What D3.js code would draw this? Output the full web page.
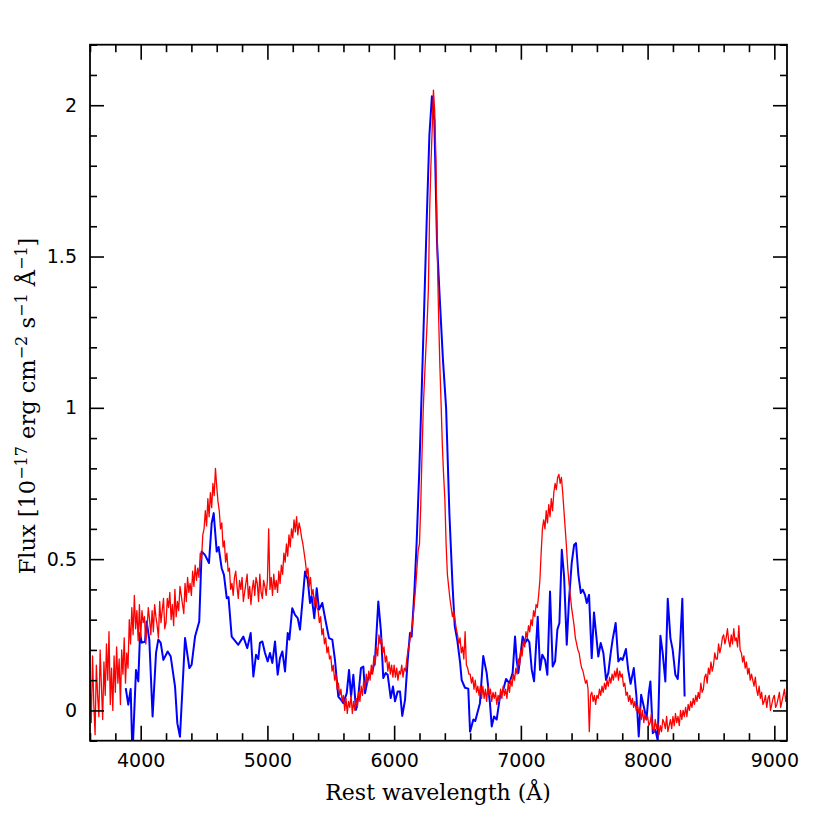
<!DOCTYPE html>
<html>
<head>
<meta charset="utf-8">
<script src="https://cdn.jsdelivr.net/npm/d3@7"></script>
<style>
  html, body { margin: 0; padding: 0; background: #fff; }
  svg { display: block; }
</style>
</head>
<body>
<svg id="chart" width="830" height="830"></svg>
<script>
// ---- Data ----
// Red spectrum: sampled every 10 Å starting at 3600 Å (one row = 100 Å)
const redStart = 3600;
const redStep = 10;
const redFlux = [
  0.10, -0.04, 0.18, 0.02, -0.08, 0.15, 0.05, -0.02, 0.20, 0.08,
  -0.03, 0.16, 0.05, 0.22, 0.10, 0.26, 0.02, 0.14, 0.00, 0.18,
  0.06, 0.21, 0.09, 0.17, 0.02, 0.20, 0.12, 0.24, 0.09, 0.19,
  0.14, 0.30, 0.22, 0.34, 0.25, 0.38, 0.27, 0.33, 0.23, 0.35,
  0.24, 0.33, 0.29, 0.31, 0.22, 0.27, 0.34, 0.30, 0.25, 0.33,
  0.26, 0.35, 0.31, 0.28, 0.24, 0.36, 0.29, 0.33, 0.37, 0.27,
  0.29, 0.37, 0.34, 0.39, 0.30, 0.35, 0.28, 0.40, 0.31, 0.36,
  0.33, 0.41, 0.38, 0.35, 0.32, 0.42, 0.36, 0.44, 0.39, 0.42,
  0.38, 0.46, 0.41, 0.48, 0.43, 0.47, 0.44, 0.52, 0.50, 0.58,
  0.60, 0.66, 0.61, 0.70, 0.64, 0.72, 0.67, 0.75, 0.71, 0.80,
  0.74, 0.69, 0.66, 0.60, 0.62, 0.54, 0.56, 0.49, 0.52, 0.46,
  0.47, 0.40, 0.42, 0.38, 0.44, 0.46, 0.41, 0.37, 0.43, 0.40,
  0.44, 0.36, 0.39, 0.42, 0.45, 0.37, 0.41, 0.35, 0.40, 0.43,
  0.38, 0.44, 0.42, 0.36, 0.45, 0.39, 0.37, 0.43, 0.41, 0.38,
  0.43, 0.60, 0.40, 0.44, 0.38, 0.45, 0.40, 0.43, 0.39, 0.46,
  0.42, 0.48, 0.45, 0.52, 0.49, 0.55, 0.51, 0.58, 0.54, 0.60,
  0.57, 0.63, 0.59, 0.64, 0.58, 0.62, 0.60, 0.57, 0.55, 0.52,
  0.49, 0.45, 0.47, 0.41, 0.44, 0.38, 0.40, 0.35, 0.38, 0.34,
  0.33, 0.29, 0.31, 0.25, 0.27, 0.22, 0.24, 0.19, 0.21, 0.17,
  0.18, 0.13, 0.15, 0.10, 0.12, 0.07, 0.09, 0.05, 0.07, 0.03,
  0.05, 0.00, 0.04, -0.01, 0.03, 0.01, 0.05, -0.01, 0.03, 0.00,
  0.04, 0.01, 0.06, 0.03, 0.08, 0.05, 0.10, 0.07, 0.12, 0.09,
  0.13, 0.10, 0.15, 0.12, 0.18, 0.15, 0.21, 0.18, 0.25, 0.22,
  0.24, 0.19, 0.21, 0.16, 0.18, 0.13, 0.16, 0.12, 0.15, 0.11,
  0.15, 0.11, 0.14, 0.10, 0.13, 0.12, 0.15, 0.11, 0.14, 0.13,
  0.17, 0.20, 0.22, 0.25, 0.27, 0.31, 0.36, 0.41, 0.47, 0.53,
  0.55, 0.68, 0.85, 1.00, 1.10, 1.19, 1.28, 1.39, 1.65, 1.80,
  1.92, 2.05, 1.98, 1.82, 1.52, 1.32, 1.15, 1.02, 0.88, 0.78,
  0.70, 0.55, 0.45, 0.41, 0.37, 0.34, 0.31, 0.33, 0.30, 0.27,
  0.25, 0.22, 0.24, 0.19, 0.21, 0.17, 0.26, 0.15, 0.14, 0.12,
  0.12, 0.09, 0.11, 0.07, 0.10, 0.06, 0.08, 0.05, 0.08, 0.04,
  0.08, 0.04, 0.07, 0.03, 0.08, 0.05, 0.07, 0.03, 0.06, 0.04,
  0.06, 0.02, 0.05, 0.03, 0.07, 0.04, 0.08, 0.05, 0.07, 0.04,
  0.09, 0.06, 0.10, 0.08, 0.12, 0.10, 0.14, 0.12, 0.17, 0.15,
  0.20, 0.18, 0.23, 0.21, 0.26, 0.24, 0.28, 0.26, 0.30, 0.28,
  0.33, 0.31, 0.35, 0.34, 0.38, 0.43, 0.52, 0.60, 0.63, 0.60,
  0.66, 0.62, 0.68, 0.64, 0.70, 0.66, 0.72, 0.75, 0.73, 0.77,
  0.78, 0.75, 0.77, 0.72, 0.66, 0.60, 0.54, 0.47, 0.42, 0.38,
  0.34, 0.31, 0.28, 0.24, 0.22, 0.20, 0.19, 0.16, 0.14, 0.13,
  0.11, 0.09, 0.10, 0.07, -0.07, 0.05, 0.06, 0.03, 0.05, 0.02,
  0.05, 0.04, 0.07, 0.05, 0.08, 0.06, 0.09, 0.07, 0.10, 0.08,
  0.11, 0.09, 0.12, 0.10, 0.13, 0.11, 0.14, 0.10, 0.13, 0.11,
  0.12, 0.08, 0.09, 0.05, 0.06, 0.03, 0.05, 0.02, 0.04, 0.01,
  0.03, 0.00, 0.02, -0.01, 0.01, -0.03, 0.00, -0.04, -0.01, -0.03,
  -0.02, -0.05, -0.04, -0.01, -0.06, -0.07, -0.03, -0.06, -0.04, -0.08,
  -0.05, -0.07, -0.03, -0.04, -0.06, -0.02, -0.07, -0.05, -0.03, -0.06,
  -0.02, -0.05, -0.01, -0.04, -0.02, -0.05, 0.00, -0.03, 0.00, -0.02,
  0.01, -0.02, 0.02, 0.00, 0.03, 0.01, 0.04, 0.02, 0.05, 0.03,
  0.06, 0.04, 0.09, 0.06, 0.07, 0.11, 0.12, 0.09, 0.14, 0.12,
  0.16, 0.13, 0.15, 0.19, 0.17, 0.17, 0.22, 0.19, 0.21, 0.24,
  0.25, 0.22, 0.24, 0.27, 0.23, 0.21, 0.25, 0.22, 0.27, 0.23,
  0.24, 0.21, 0.28, 0.20, 0.19, 0.16, 0.18, 0.14, 0.16, 0.12,
  0.14, 0.10, 0.12, 0.10, 0.08, 0.11, 0.07, 0.05, 0.08, 0.04,
  0.06, 0.02, 0.03, 0.05, 0.01, 0.04, 0.05, 0.00, 0.02, 0.04,
  0.05, 0.01, 0.02, 0.04, 0.06, 0.01, 0.03, 0.05, 0.07, 0.03,
  0.06
];

// Blue spectrum (lower resolution)
const blueWave = [
  3882, 3902, 3921, 3935, 3963, 3981, 3995, 4008, 4034, 4047,
  4068, 4094, 4121, 4139, 4158, 4179, 4213, 4237, 4271, 4289,
  4310, 4350, 4384, 4402, 4429, 4462, 4481, 4507, 4539, 4560,
  4576, 4600, 4615, 4639, 4657, 4679, 4693, 4718, 4770, 4810,
  4841, 4868, 4889, 4910, 4928, 4941, 4960, 4981, 5002, 5020,
  5039, 5060, 5081, 5099, 5118, 5139, 5160, 5173, 5196, 5218,
  5239, 5257, 5297, 5318, 5336, 5349, 5370, 5389, 5407, 5433,
  5460, 5486, 5512, 5533, 5559, 5581, 5599, 5626, 5644, 5660,
  5678, 5699, 5717, 5738, 5757, 5770, 5791, 5809, 5828, 5849,
  5875, 5896, 5914, 5933, 5949, 5973, 5991, 6007, 6028, 6046,
  6064, 6086, 6107, 6125, 6138, 6159, 6178, 6199, 6217, 6237,
  6257, 6278, 6298, 6317, 6338, 6360, 6385, 6410, 6436, 6460,
  6478, 6499, 6520, 6533, 6559, 6585, 6599, 6625, 6640, 6677,
  6703, 6730, 6756, 6770, 6788, 6809, 6835, 6861, 6883, 6909,
  6935, 6954, 6967, 6980, 6999, 7014, 7033, 7051, 7067, 7086,
  7104, 7133, 7151, 7169, 7191, 7209, 7230, 7251, 7270, 7288,
  7304, 7323, 7341, 7362, 7380, 7401, 7420, 7435, 7454, 7473,
  7488, 7506, 7520, 7538, 7559, 7577, 7598, 7611, 7630, 7651,
  7672, 7690, 7709, 7724, 7748, 7769, 7788, 7803, 7829, 7847,
  7866, 7891, 7912, 7930, 7949, 7970, 7991, 8009, 8022, 8041,
  8062, 8080, 8101, 8119, 8140, 8159, 8180, 8198, 8219, 8238,
  8256, 8274, 8292
];
const blueFlux = [
  0.074, 0.019, 0.071, -0.15, 0.134, 0.096, 0.256, 0.224, 0.227, 0.294,
  0.234, -0.02, 0.19, 0.234, 0.223, 0.167, 0.195, 0.178, 0.079, -0.042,
  -0.087, 0.239, 0.14, 0.151, 0.244, 0.294, 0.525, 0.514, 0.487, 0.619,
  0.652, 0.525, 0.54, 0.47, 0.448, 0.371, 0.375, 0.244, 0.217, 0.244,
  0.206, 0.256, 0.112, 0.184, 0.17, 0.223, 0.228, 0.19, 0.162, 0.19,
  0.157, 0.228, 0.118, 0.173, 0.195, 0.129, 0.256, 0.234, 0.338, 0.316,
  0.305, 0.267, 0.459, 0.432, 0.355, 0.377, 0.305, 0.404, 0.333, 0.355,
  0.294, 0.239, 0.234, 0.167, 0.046, 0.035, 0.024, 0.057, 0.134, 0.046,
  0.118, 0.002, 0.046, 0.14, 0.145, 0.057, 0.101, 0.118, 0.129, 0.167,
  0.36, 0.261, 0.107, 0.124, 0.118, 0.041, 0.079, 0.03, 0.063, 0.063,
  -0.018, 0.035, 0.167, 0.256, 0.244, 0.388, 0.56, 0.80, 1.05, 1.33,
  1.62, 1.90, 2.03, 1.95, 1.55, 1.36, 1.16, 1.00, 0.65, 0.42,
  0.28, 0.23, 0.16, 0.10, 0.075, 0.072, -0.07, -0.03, -0.035, 0.024,
  0.18, 0.124, 0.024, -0.053, -0.02, -0.03, 0.046, 0.068, 0.104, 0.09,
  0.124, 0.244, 0.167, 0.124, 0.19, 0.244, 0.223, 0.236, 0.225, 0.134,
  0.096, 0.31, 0.134, 0.184, 0.167, 0.118, 0.393, 0.145, 0.162, 0.267,
  0.289, 0.531, 0.443, 0.217, 0.366, 0.487, 0.547, 0.553, 0.448, 0.388,
  0.399, 0.382, 0.355, 0.382, 0.173, 0.324, 0.234, 0.178, 0.223, 0.19,
  0.101, 0.124, 0.19, 0.234, 0.289, 0.162, 0.173, 0.167, 0.203, 0.134,
  0.088, 0.14, 0.046, -0.086, 0.052, 0.013, -0.03, 0.057, 0.096, -0.075,
  -0.064, -0.1, 0.247, 0.19, 0.096, 0.369, 0.239, 0.2, 0.118, 0.104,
  0.211, 0.369, 0.046
];

// Axes ticks
const xMajorTicks = [4000, 5000, 6000, 7000, 8000, 9000];
const xMajorLabels = ["4000", "5000", "6000", "7000", "8000", "9000"];
const yMajorTicks = [0, 0.5, 1, 1.5, 2];
const yMajorLabels = ["0", "0.5", "1", "1.5", "2"];
const xMinorStep = 200;
const yMinorStep = 0.1;

// ---- Layout ----
const pLeft = 90, pRight = 787, pTop = 44.7, pBottom = 740.7;
const svg = d3.select("#chart");

const x = d3.scaleLinear().domain([3600, 9100]).range([pLeft, pRight]);
const y = d3.scaleLinear().domain([-0.1, 2.2]).range([pBottom, pTop]);

const xMinor = d3.range(3600, 9100 + 1, xMinorStep).filter(v => !xMajorTicks.includes(v));
const yMinor = d3.range(-1, 23).map(i => +(i * yMinorStep).toFixed(1)).filter(v => !yMajorTicks.includes(v));

svg.append("defs").append("clipPath").attr("id", "clip")
  .append("rect").attr("x", pLeft).attr("y", pTop)
  .attr("width", pRight - pLeft).attr("height", pBottom - pTop);

// Data lines
const redData = redFlux.map((f, i) => [redStart + i * redStep, f]);
const blueData = blueWave.map((w, i) => [w, blueFlux[i]]);
const line = d3.line().x(d => x(d[0])).y(d => y(d[1]));

const plot = svg.append("g").attr("clip-path", "url(#clip)");
plot.append("path").datum(blueData).attr("d", line)
  .attr("fill", "none").attr("stroke", "#0000ff").attr("stroke-width", 2)
  .attr("stroke-linejoin", "round");
plot.append("path").datum(redData).attr("d", line)
  .attr("fill", "none").attr("stroke", "#ff0000").attr("stroke-width", 1.3)
  .attr("stroke-linejoin", "round");

// Axes
const fontTick = "'DejaVu Sans', sans-serif";
function styleAxis(g) {
  g.select(".domain").remove();
  g.selectAll(".tick line").attr("stroke", "#000").attr("stroke-width", 1.6);
  g.selectAll(".tick text").attr("fill", "#000").style("font-family", fontTick).style("font-size", "19px");
}

// bottom
svg.append("g").attr("transform", `translate(0,${pBottom})`)
  .call(d3.axisBottom(x).tickValues(xMajorTicks).tickFormat((d, i) => xMajorLabels[i])
    .tickSizeInner(-15).tickSizeOuter(0).tickPadding(13))
  .call(styleAxis);
svg.append("g").attr("transform", `translate(0,${pBottom})`)
  .call(d3.axisBottom(x).tickValues(xMinor).tickFormat("").tickSizeInner(-7.5).tickSizeOuter(0))
  .call(styleAxis);
// top
svg.append("g").attr("transform", `translate(0,${pTop})`)
  .call(d3.axisTop(x).tickValues(xMajorTicks).tickFormat("").tickSizeInner(-15).tickSizeOuter(0))
  .call(styleAxis);
svg.append("g").attr("transform", `translate(0,${pTop})`)
  .call(d3.axisTop(x).tickValues(xMinor).tickFormat("").tickSizeInner(-7.5).tickSizeOuter(0))
  .call(styleAxis);
// left
svg.append("g").attr("transform", `translate(${pLeft},0)`)
  .call(d3.axisLeft(y).tickValues(yMajorTicks).tickFormat((d, i) => yMajorLabels[i])
    .tickSizeInner(-14).tickSizeOuter(0).tickPadding(13))
  .call(styleAxis);
svg.append("g").attr("transform", `translate(${pLeft},0)`)
  .call(d3.axisLeft(y).tickValues(yMinor).tickFormat("").tickSizeInner(-7).tickSizeOuter(0))
  .call(styleAxis);
// right
svg.append("g").attr("transform", `translate(${pRight},0)`)
  .call(d3.axisRight(y).tickValues(yMajorTicks).tickFormat("").tickSizeInner(-14).tickSizeOuter(0))
  .call(styleAxis);
svg.append("g").attr("transform", `translate(${pRight},0)`)
  .call(d3.axisRight(y).tickValues(yMinor).tickFormat("").tickSizeInner(-7).tickSizeOuter(0))
  .call(styleAxis);

// Frame
svg.append("rect").attr("x", pLeft).attr("y", pTop)
  .attr("width", pRight - pLeft).attr("height", pBottom - pTop)
  .attr("fill", "none").attr("stroke", "#000").attr("stroke-width", 1.8);

// Axis titles
const fontTitle = "'DejaVu Serif', serif";
svg.append("text")
  .attr("x", 438).attr("y", 800)
  .attr("text-anchor", "middle")
  .style("font-family", fontTitle).style("font-size", "22px").attr("fill", "#000")
  .text("Rest wavelength (Å)");

const yt = svg.append("text")
  .attr("transform", "translate(35,406) rotate(-90)")
  .attr("text-anchor", "middle")
  .style("font-family", fontTitle).style("font-size", "22.5px").attr("fill", "#000");
const sup = (t) => {
  yt.append("tspan").attr("dy", -8).style("font-size", "16px").text(t);
};
const normal = (t, shift) => {
  yt.append("tspan").attr("dy", shift).text(t);
};
normal("Flux [10", 0);
sup("−17");
normal(" erg cm", 8);
sup("−2");
normal(" s", 8);
sup("−1");
normal(" Å", 8);
sup("−1");
normal("]", 8);
</script>
</body>
</html>
